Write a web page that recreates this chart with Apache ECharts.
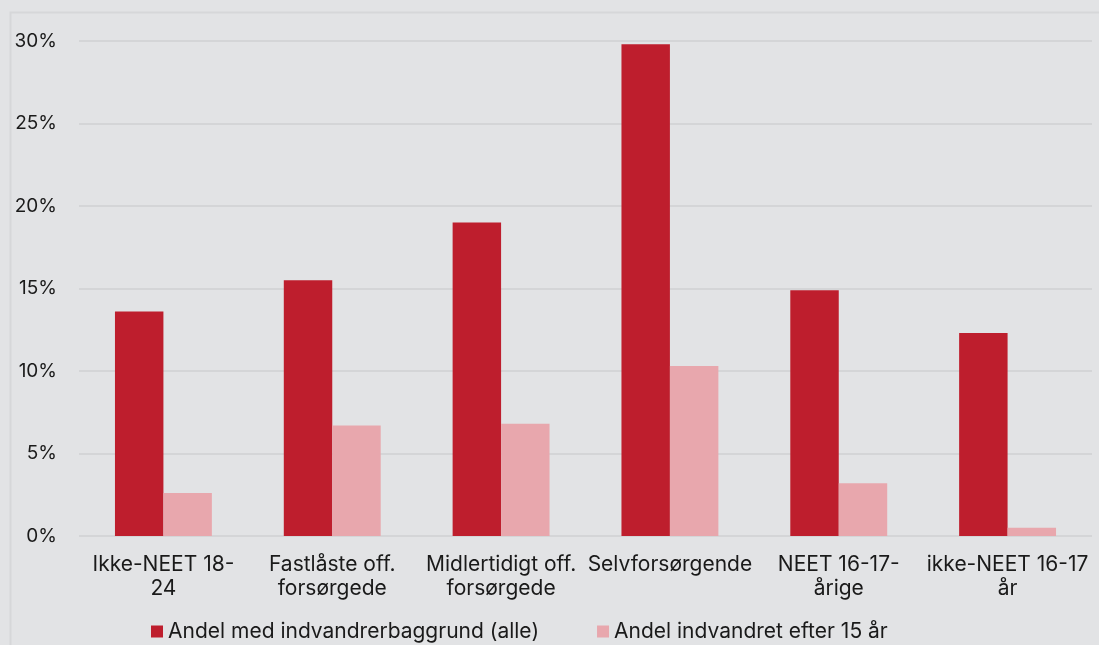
<!DOCTYPE html>
<html>
<head>
<meta charset="utf-8">
<script src="https://cdn.jsdelivr.net/npm/echarts@6/dist/echarts.min.js"></script>
<style>
html,body{margin:0;padding:0;background:#e2e3e5;}
#c{width:1099px;height:645px;}
</style>
</head>
<body>
<div id="c"></div>
<script>
const categories = ["Ikke-NEET 18-\n24", "Fastlåste off.\nforsørgede", "Midlertidigt off.\nforsørgede", "Selvforsørgende", "NEET 16-17-\nårige", "ikke-NEET 16-17\når"];
const seriesNames = ["Andel med indvandrerbaggrund (alle)", "Andel indvandret efter 15 år"];
const allValues = [13.6, 15.5, 19.0, 29.8, 14.9, 12.3];
const after15Values = [2.6, 6.7, 6.8, 10.3, 3.2, 0.5];
const yTicks = [0, 5, 10, 15, 20, 25, 30];

const chart = echarts.init(document.getElementById('c'), null, {renderer: 'canvas'});
const font = 'Inter';
chart.setOption({
  backgroundColor: '#e2e3e5',
  animation: false,
  textStyle: {fontFamily: font},
  graphic: [{
    type: 'rect',
    shape: {x: 10.5, y: 12.5, width: 1100, height: 700},
    style: {fill: 'none', stroke: '#d6d7d9', lineWidth: 2},
    silent: true
  }],
  grid: {left: 79, right: 7, top: 41, bottom: 109, containLabel: false},
  legend: {
    data: seriesNames,
    left: 146,
    top: 616,
    itemWidth: 12,
    itemHeight: 12,
    itemGap: 58,
    icon: 'rect',
    textStyle: {fontSize: 21, color: '#1a1a1a', fontFamily: font}
  },
  xAxis: {
    type: 'category',
    data: categories,
    axisLine: {show: false},
    axisTick: {show: false},
    axisLabel: {fontSize: 21, color: '#1a1a1a', lineHeight: 24, margin: 17, interval: 0, fontFamily: font}
  },
  yAxis: {
    type: 'value',
    min: yTicks[0],
    max: yTicks[yTicks.length - 1],
    interval: 5,
    axisLine: {show: false},
    axisTick: {show: false},
    splitLine: {lineStyle: {color: '#d4d5d7', width: 2}},
    axisLabel: {fontSize: 19, color: '#1a1a1a', margin: 22, formatter: '{value}%', fontFamily: font}
  },
  series: [
    {name: seriesNames[0], type: 'bar', data: allValues, barGap: '0%', barCategoryGap: '42.6%',
     itemStyle: {color: '#be1e2d'}},
    {name: seriesNames[1], type: 'bar', data: after15Values, barGap: '0%', barCategoryGap: '42.6%',
     itemStyle: {color: '#e8a7ad'}}
  ]
});
</script>
</body>
</html>
